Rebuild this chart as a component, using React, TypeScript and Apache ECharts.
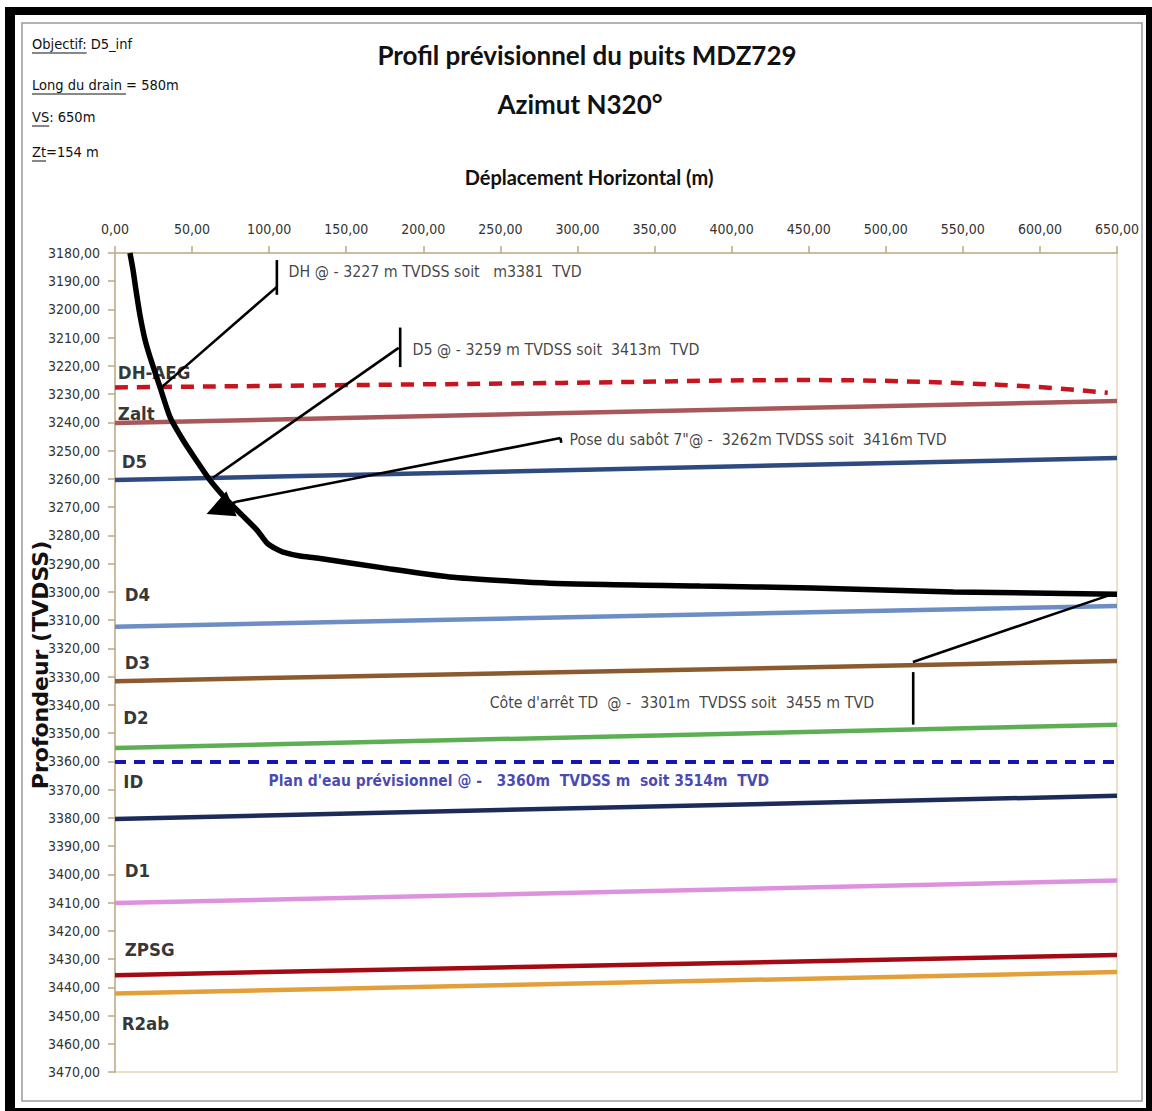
import React, { useEffect, useRef } from "react";
import * as echarts from "echarts";

// ---------- axes ----------
const X_MIN = 0;
const X_MAX = 650;
const X_STEP = 50;
const Y_MIN = 3180;
const Y_MAX = 3470;
const Y_STEP = 10;

// ---------- well trajectory (horizontal displacement m, depth TVDSS) ----------
const trajX = [9.7, 11.7, 13.6, 16.2, 19.5, 22.7, 29.2, 35.7, 44.1, 52.6, 61.6, 72.7, 82.4, 92.1, 98.6, 104.5, 109, 120, 131, 174, 217, 282, 379.6, 452, 544, 650];
const trajDepth = [3180, 3186, 3193.1, 3202, 3210.8, 3216.8, 3227.5, 3238.1, 3246.2, 3253.3, 3260.4, 3267.5, 3272.8, 3278.1, 3282.7, 3284.8, 3285.9, 3287.3, 3288, 3291.5, 3294.7, 3296.9, 3297.9, 3298.6, 3300, 3300.8];

// ---------- DH-AEG top (dashed, slightly curved) ----------
const dhX = [0, 290, 445, 575, 644];
const dhDepth = [3227.6, 3226, 3225, 3226.7, 3229.5];

// ---------- other formation tops (straight, left & right depth) ----------
const horizonNames = ["Zalt", "D5", "D4", "D3", "D2", "ID", "D1", "ZPSG", "R2ab"];
const horizonLeft = [3240.2, 3260.4, 3312.3, 3331.6, 3355.3, 3380.4, 3410.2, 3435.7, 3442.2];
const horizonRight = [3232.4, 3252.6, 3305.0, 3324.5, 3347.0, 3372.2, 3402.2, 3428.6, 3434.6];

// ---------- water plane ----------
const waterX = [0, 650];
const waterDepth = [3360.2, 3360.2];

// ---------- formation labels ----------
const labelNames = ["DH-AEG", "Zalt", "D5", "D4", "D3", "D2", "ID", "D1", "ZPSG", "R2ab"];
const labelX = [1.5, 1.5, 4, 6, 6, 5, 5, 6, 6, 4];
const labelDepth = [3222.4, 3237.0, 3254.0, 3301.0, 3324.9, 3344.3, 3367.3, 3398.5, 3426.6, 3452.7];

// ---------- annotations ----------
const annoTexts = [
  "DH @ - 3227 m TVDSS soit   m3381  TVD",
  "D5 @ - 3259 m TVDSS soit  3413m  TVD",
  "Pose du sabôt 7\"@ -  3262m TVDSS soit  3416m TVD",
  "Côte d'arrêt TD  @ -  3301m  TVDSS soit  3455 m TVD",
];
const annoX = [112.3, 192.7, 294.5, 242.7];
const annoDepth = [3186.4, 3214.0, 3246.2, 3339.0];

const waterText = "Plan d'eau prévisionnel @ -   3360m  TVDSS m  soit 3514m  TVD";
const waterTextX = 99.3;
const waterTextDepth = 3367.0;

// ---------- leader segments [x1, d1, x2, d2] ----------
const leaderSegments = [
  [30.5, 3227.4, 105, 3192.0],
  [105, 3182.5, 105, 3194.8],
  [63.5, 3259.6, 184, 3213.6],
  [185, 3206.4, 185, 3220.4],
  [289, 3245.5, 289.5, 3247.2],
  [289, 3245.5, 78.6, 3268.1],
  [647.6, 3300.7, 517.6, 3324.8],
  [517.8, 3328.4, 517.8, 3347.0],
];
// arrow head towards the casing shoe
const arrowFrom = [78.6, 3268.1];
const arrowTo = [67.5, 3270.6];

// ---------- header notes [underlined part, rest] ----------
const notes = [
  ["Objectif:", " D5_inf"],
  ["Long du drain ", "= 580m"],
  ["VS", ": 650m"],
  ["Zt", "=154 m"],
];

const NARROW = "'Liberation Sans Narrow', 'Arial Narrow', 'DejaVu Sans Condensed', sans-serif";
const TITLE_FONT = "Lato, 'Open Sans', sans-serif";

const horizonColors = ["#A8585B", "#2E4A80", "#6C8EC4", "#8C5A2E", "#5DAF54", "#1C2B5A", "#DE92DE", "#A30A14", "#E3A03A"];

const fmt = (v: number) => v.toFixed(2).replace(".", ",");

function measure(text: string, font: string): number {
  const c = document.createElement("canvas");
  const ctx = c.getContext("2d");
  if (!ctx) return text.length * 8;
  ctx.font = font;
  return ctx.measureText(text).width;
}

export default function App() {
  const ref = useRef<HTMLDivElement>(null);

  useEffect(() => {
    document.body.style.margin = "0";
    if (!ref.current) return;
    const chart = echarts.init(ref.current, undefined, { renderer: "svg" });

    const series: any[] = [];

    horizonNames.forEach((name, i) => {
      series.push({
        name,
        type: "line",
        data: [
          [X_MIN, horizonLeft[i]],
          [X_MAX, horizonRight[i]],
        ],
        showSymbol: false,
        lineStyle: { color: horizonColors[i], width: 4.5 },
        z: 2,
      });
    });

    series.push({
      name: "DH-AEG",
      type: "line",
      smooth: 0.4,
      data: dhX.map((x, i) => [x, dhDepth[i]]),
      showSymbol: false,
      lineStyle: { color: "#C8141E", width: 4.5, type: [13, 9] },
      z: 2,
    });

    series.push({
      name: "Plan d'eau",
      type: "line",
      data: waterX.map((x, i) => [x, waterDepth[i]]),
      showSymbol: false,
      lineStyle: { color: "#1515B5", width: 4, type: [11, 8] },
      z: 2,
    });

    series.push({
      name: "Trajectoire",
      type: "line",
      smooth: 0.2,
      data: trajX.map((x, i) => [x, trajDepth[i]]),
      showSymbol: false,
      lineStyle: { color: "#000", width: 5.5 },
      z: 4,
    });

    leaderSegments.forEach((s, i) => {
      series.push({
        name: "leader" + i,
        type: "line",
        data: [
          [s[0], s[1]],
          [s[2], s[3]],
        ],
        showSymbol: false,
        lineStyle: { color: "#000", width: 2.6 },
        z: 5,
      });
    });

    series.push({
      name: "arrow",
      type: "lines",
      coordinateSystem: "cartesian2d",
      symbol: ["none", "triangle"],
      symbolSize: 27,
      data: [{ coords: [arrowFrom, arrowTo] }],
      lineStyle: { color: "#000", width: 2.6, opacity: 1 },
      z: 5,
    });

    series.push({
      name: "labels",
      type: "scatter",
      symbolSize: 1,
      itemStyle: { color: "rgba(0,0,0,0)" },
      data: labelNames.map((n, i) => ({ name: n, value: [labelX[i], labelDepth[i]] })),
      label: {
        show: true,
        position: "right",
        distance: 0,
        formatter: (p: any) => p.name,
        fontFamily: NARROW,
        fontWeight: "bold",
        fontSize: 18.5,
        color: "#000",
      },
      z: 3,
    });

    series.push({
      name: "annotations",
      type: "scatter",
      symbolSize: 1,
      itemStyle: { color: "rgba(0,0,0,0)" },
      data: annoTexts.map((n, i) => ({ name: n, value: [annoX[i], annoDepth[i]] })),
      label: {
        show: true,
        position: "right",
        distance: 0,
        formatter: (p: any) => p.name,
        fontFamily: NARROW,
        fontSize: 15.8,
        color: "#111",
      },
      z: 6,
    });

    series.push({
      name: "water",
      type: "scatter",
      symbolSize: 1,
      itemStyle: { color: "rgba(0,0,0,0)" },
      data: [{ name: waterText, value: [waterTextX, waterTextDepth] }],
      label: {
        show: true,
        position: "right",
        distance: 0,
        formatter: (p: any) => p.name,
        fontFamily: NARROW,
        fontWeight: "bold",
        fontSize: 15.5,
        color: "#1818A0",
      },
      z: 6,
    });

    // header notes with underline
    const noteFont = `14.5px ${NARROW}`;
    const noteY = [45, 86, 118, 153];
    const noteGraphics: any[] = [];
    notes.forEach((n, i) => {
      const w = measure(n[0], noteFont);
      noteGraphics.push({
        type: "text",
        left: 32,
        top: noteY[i] - 9,
        style: { text: n[0], font: noteFont, fill: "#111" },
        z: 10,
      });
      noteGraphics.push({
        type: "text",
        left: 32 + w,
        top: noteY[i] - 9,
        style: { text: n[1], font: noteFont, fill: "#111" },
        z: 10,
      });
      noteGraphics.push({
        type: "line",
        shape: { x1: 32, y1: noteY[i] + 8, x2: 32 + w, y2: noteY[i] + 8 },
        style: { stroke: "#111", lineWidth: 1 },
        z: 10,
      });
    });

    const titleStyle = {
      fontFamily: TITLE_FONT,
      fontWeight: "bold",
      fontSize: 26,
      lineHeight: 30,
      color: "#111",
    };

    const option: any = {
      animation: false,
      backgroundColor: "#fff",
      title: [
        { text: "Profil prévisionnel du puits MDZ729", left: 587, top: 40, textAlign: "center", textStyle: titleStyle, padding: 0 },
        { text: "Azimut N320°", left: 580, top: 89, textAlign: "center", textStyle: titleStyle, padding: 0 },
      ],
      grid: {
        left: 115,
        top: 253,
        width: 1002,
        height: 819,
        show: true,
        borderColor: "#EADFC9",
        borderWidth: 2,
        backgroundColor: "rgba(0,0,0,0)",
      },
      xAxis: {
        type: "value",
        position: "top",
        min: X_MIN,
        max: X_MAX,
        interval: X_STEP,
        name: "Déplacement Horizontal (m)",
        nameLocation: "middle",
        nameGap: 66,
        nameTextStyle: {
          fontFamily: TITLE_FONT,
          fontWeight: "bold",
          fontSize: 20,
          color: "#111",
          padding: [0, 54, 0, 0],
        },
        axisLine: { show: true, lineStyle: { color: "#CDBC9C", width: 2 } },
        axisTick: { show: true, length: 7, lineStyle: { color: "#B8A888", width: 1.5 } },
        axisLabel: { formatter: fmt, fontFamily: NARROW, fontSize: 14, color: "#333", margin: 17 },
        splitLine: { show: false },
      },
      yAxis: {
        type: "value",
        inverse: true,
        min: Y_MIN,
        max: Y_MAX,
        interval: Y_STEP,
        axisLine: { show: true, lineStyle: { color: "#CDBC9C", width: 2 } },
        axisTick: { show: true, length: 7, lineStyle: { color: "#B8A888", width: 1.5 } },
        axisLabel: { formatter: fmt, fontFamily: NARROW, fontSize: 14, color: "#333", margin: 15 },
        splitLine: { show: false },
      },
      graphic: [
        { type: "rect", shape: { x: 5, y: 7, width: 1147, height: 1104 }, style: { fill: "#000" }, z: -10 },
        { type: "rect", shape: { x: 15, y: 15, width: 1131, height: 1093 }, style: { fill: "#fff" }, z: -9 },
        {
          type: "rect",
          shape: { x: 22, y: 23, width: 1120, height: 1078 },
          style: { fill: "#fff", stroke: "#9A9A9A", lineWidth: 1.5 },
          z: -8,
        },
        {
          type: "text",
          x: 40,
          y: 665,
          rotation: Math.PI / 2,
          style: {
            text: "Profondeur (TVDSS)",
            font: "bold 22px 'DejaVu Sans', Verdana, sans-serif",
            fill: "#111",
            align: "center",
            verticalAlign: "middle",
          },
          z: 10,
        },
        ...noteGraphics,
      ],
      series,
    };

    chart.setOption(option);
    return () => chart.dispose();
  }, []);

  return <div ref={ref} style={{ width: 1152, height: 1111 }} />;
}
